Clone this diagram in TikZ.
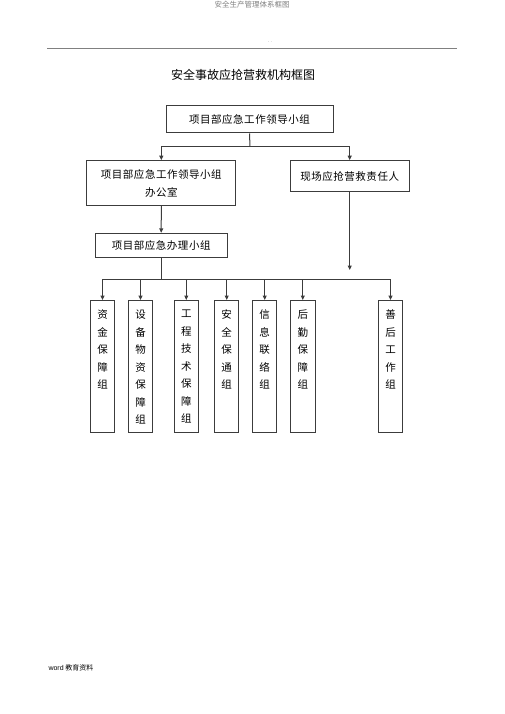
\documentclass[tikz,border=0pt]{standalone}
\usepackage{fontspec}
\setmainfont{Noto Sans CJK SC}
\newfontfamily\boxfont[LetterSpace=5]{Noto Sans CJK SC}
\newfontfamily\footfont{Liberation Sans}
\usetikzlibrary{arrows.meta}
\definecolor{linegray}{RGB}{60,60,60}
% vertical column of characters, top aligned in a tall box
\newcommand{\vlist}[1]{\parbox[c][132pt][t]{14pt}{\centering\setlength{\baselineskip}{17.5pt}\vspace*{9.5pt}#1\par}}
\begin{document}
\begin{tikzpicture}[x=1pt,y=-1pt,
	box/.style={draw=linegray,line width=1pt,inner sep=0pt,align=center,font=\boxfont\fontsize{10.5}{18}\selectfont},
	grp/.style={draw=linegray,line width=1pt,inner sep=0pt,minimum width=24.5pt,anchor=north,font=\boxfont\fontsize{10.5}{17.5}\selectfont},
	link/.style={draw=linegray,line width=1pt},
	arr/.style={link,-{Triangle[length=4.5pt,width=4pt]}}]
	\useasboundingbox (0,0) rectangle (505,714);
	
	% page header
	\node (head) at (252,5) {\fontsize{7.5}{8}\selectfont\color{gray}安全生产管理体系框图};
	\node (dots) at (270,42) {\fontsize{5}{5}\selectfont\color{gray}. .};
	\draw [gray,line width=0.8pt] (47,48) -- (457,48);
	\node (title) at (243,75) {\fontsize{12}{14}\selectfont 安全事故应抢营救机构框图};
	
	% upper boxes
	\node [box,minimum width=167pt,minimum height=27pt] (lead) at (249.5,119.5) {项目部应急工作领导小组};
	\node [box,minimum width=149pt,minimum height=44.6pt] (office) at (161.3,183) {项目部应急工作领导小组\\办公室};
	\node [box,minimum width=119.3pt,minimum height=31.3pt] (field) at (349.7,176.3) {现场应抢营救责任人};
	\node [box,minimum width=132.3pt,minimum height=24pt] (handle) at (161.2,245.3) {项目部应急办理小组};
	
	\coordinate (split) at (250,146.7);
	\draw [link] (lead.south) -- (split);
	\draw [link] (office.north |- split) -- (field.north |- split);
	\draw [arr] (office.north |- split) -- (office.north);
	\draw [arr] (field.north |- split) -- (field.north);
	\draw [arr] (office.south) -- (handle.north);
	\coordinate (fieldend) at (349.7,270);
	\draw [arr] (field.south) -- (fieldend);
	
	% working groups
	\node [grp] (g1) at (102.5,300) {\vlist{资\\金\\保\\障\\组}};
	\node [grp] (g2) at (140.5,300) {\vlist{设\\备\\物\\资\\保\\障\\组}};
	\node [grp] (g3) at (186.3,300) {\vlist{工\\程\\技\\术\\保\\障\\组}};
	\node [grp] (g4) at (226.7,300) {\vlist{安\\全\\保\\通\\组}};
	\node [grp] (g5) at (264.7,300) {\vlist{信\\息\\联\\络\\组}};
	\node [grp] (g6) at (302.8,300) {\vlist{后\\勤\\保\\障\\组}};
	\node [grp] (g7) at (390.5,300) {\vlist{善\\后\\工\\作\\组}};
	
	\coordinate (bus) at (161.2,279);
	\draw [link] (handle.south) -- (bus);
	\draw [link] (g1.north |- bus) -- (g7.north |- bus);
	\foreach \g in {g1,g2,g3,g4,g5,g6,g7}
		\draw [arr] (\g.north |- bus) -- (\g.north);
	
	% page footer
	\node [anchor=west] (foot) at (45,668) {\fontsize{7}{8}\selectfont{\footfont word} 教育资料};
\end{tikzpicture}
\end{document}
